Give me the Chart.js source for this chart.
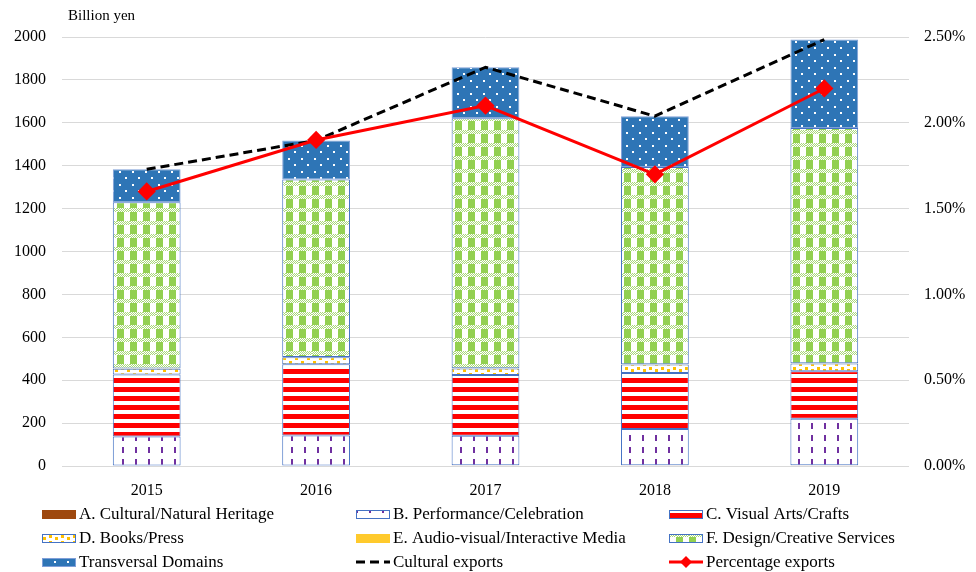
<!DOCTYPE html>
<html>
<head>
<meta charset="utf-8">
<script src="https://cdn.jsdelivr.net/npm/chart.js@4"></script>
<style>
  html, body { margin: 0; padding: 0; background: #fff; }
  #wrap { width: 976px; height: 572px; }
</style>
</head>
<body>
<div id="wrap"><canvas id="exportsChart" width="976" height="572"></canvas></div>
<script>
const years = ['2015', '2016', '2017', '2018', '2019'];

// billion yen, by domain
const heritage = [2, 2, 4, 4, 4];
const performance = [135, 140, 137, 168, 216];
const visualArts = [289, 332, 283, 262, 222];
const booksPress = [27, 33, 31, 39, 36];
const audioVisual = [1, 1, 1, 1, 1];
const designServices = [776, 828, 1165, 920, 1097];
const transversal = [153, 182, 238, 237, 412];

const culturalExports = [1383, 1518, 1859, 1631, 1988];
const percentageExports = [1.6, 1.9, 2.1, 1.7, 2.2];

const leftTicks = [0, 2000, 200];
const rightTicks = [0, 2.5, 0.5];

const legendCols = [42, 356, 669];
const legendRows = [514, 538, 562];

function tile(w, h, draw) {
    const c = document.createElement('canvas');
    c.width = w;
    c.height = h;
    const g = c.getContext('2d');
    draw(g);
    return c.getContext('2d').createPattern(c, 'repeat');
}

const ctx = document.getElementById('exportsChart').getContext('2d');

const perfFill = tile(13, 12, g => {
    g.fillStyle = '#fff';
    g.fillRect(0, 0, 13, 12);
    g.fillStyle = '#7030A0';
    g.fillRect(5, 3, 2, 6);
});

const artsFill = tile(4, 9, g => {
    g.fillStyle = '#fff';
    g.fillRect(0, 0, 4, 9);
    g.fillStyle = '#FF0000';
    g.fillRect(0, 0, 4, 5);
});

const booksFill = tile(12, 6, g => {
    g.fillStyle = '#fff';
    g.fillRect(0, 0, 12, 6);
    g.fillStyle = '#FFC000';
    g.fillRect(1, 1, 3, 3);
    g.fillRect(7, 3, 3, 3);
});

const designFill = tile(13, 13, g => {
    g.fillStyle = '#fff';
    g.fillRect(0, 0, 13, 13);
    g.fillStyle = '#92D050';
    g.fillRect(0, 4, 7, 9);
    // light mesh band
    g.fillStyle = '#A9D77A';
    for (let y = 0; y < 4; y++) {
        for (let x = 0; x < 13; x++) {
            if ((x + y) % 2 === 0) g.fillRect(x, y, 1, 1);
        }
    }
});

const transFill = tile(13, 13, g => {
    g.fillStyle = '#2E75B6';
    g.fillRect(0, 0, 13, 13);
    g.fillStyle = '#fff';
    g.fillRect(2, 2, 2, 2);
    g.fillRect(8, 8, 2, 2);
});

function barSet(label, data, fill, border) {
    return {
        type: 'bar',
        label: label,
        data: data,
        backgroundColor: fill,
        borderColor: border,
        borderWidth: 1,
        borderSkipped: false,
        yAxisID: 'y',
        stack: 'domains',
        order: 2,
        barPercentage: 0.4,
        categoryPercentage: 1
    };
}

const legendAndTitle = {
    id: 'legendAndTitle',
    afterDraw(chart) {
        const c = chart.ctx;
        c.save();
        c.font = '15px "Liberation Serif", serif';
        c.fillStyle = '#000';
        c.textBaseline = 'middle';
        c.textAlign = 'left';
        c.fillText('Billion yen', 68, 16);

        c.font = '17px "Liberation Serif", serif';
        chart.data.datasets.forEach((ds, i) => {
            const x = legendCols[i % 3];
            const y = legendRows[Math.floor(i / 3)];
            if (ds.type === 'bar') {
                c.fillStyle = ds.backgroundColor;
                c.fillRect(x, y - 4, 34, 9);
                c.strokeStyle = ds.borderColor;
                c.lineWidth = 1;
                c.strokeRect(x + 0.5, y - 3.5, 33, 8);
            } else {
                c.strokeStyle = ds.borderColor;
                c.lineWidth = 3;
                c.setLineDash(ds.borderDash || []);
                c.beginPath();
                c.moveTo(x, y);
                c.lineTo(x + 34, y);
                c.stroke();
                c.setLineDash([]);
                if (ds.pointRadius > 0) {
                    c.fillStyle = ds.pointBackgroundColor;
                    c.beginPath();
                    c.moveTo(x + 17, y - 6);
                    c.lineTo(x + 23, y);
                    c.lineTo(x + 17, y + 6);
                    c.lineTo(x + 11, y);
                    c.closePath();
                    c.fill();
                }
            }
            c.fillStyle = '#000';
            c.fillText(ds.label, x + 37, y + 1);
        });
        c.restore();
    }
};

Chart.defaults.font.family = '"Liberation Serif", serif';
Chart.defaults.font.size = 16;
Chart.defaults.color = '#000';

new Chart(ctx, {
    data: {
        labels: years,
        datasets: [
            barSet('A. Cultural/Natural Heritage', heritage, '#9E480E', '#9E480E'),
            barSet('B. Performance/Celebration', performance, perfFill, '#4472C4'),
            barSet('C. Visual Arts/Crafts', visualArts, artsFill, '#4472C4'),
            barSet('D. Books/Press', booksPress, booksFill, '#4472C4'),
            barSet('E. Audio-visual/Interactive Media', audioVisual, '#FFCA2C', '#FFCA2C'),
            barSet('F. Design/Creative Services', designServices, designFill, '#4472C4'),
            barSet('Transversal Domains', transversal, transFill, '#7F9FD8'),
            {
                type: 'line',
                label: 'Cultural exports',
                data: culturalExports,
                borderColor: '#000',
                borderWidth: 3,
                borderDash: [9, 5],
                pointRadius: 0,
                fill: false,
                tension: 0,
                yAxisID: 'y',
                order: 1
            },
            {
                type: 'line',
                label: 'Percentage exports',
                data: percentageExports,
                borderColor: '#FF0000',
                borderWidth: 3,
                pointStyle: 'rectRot',
                pointRadius: 7,
                pointBackgroundColor: '#FF0000',
                pointBorderColor: '#FF0000',
                fill: false,
                tension: 0,
                yAxisID: 'y1',
                order: 0
            }
        ]
    },
    options: {
        responsive: false,
        animation: false,
        layout: { padding: { top: 37, bottom: 66, left: 0, right: 0 } },
        plugins: {
            legend: { display: false },
            tooltip: { enabled: false }
        },
        scales: {
            x: {
                stacked: true,
                grid: { display: false },
                border: { display: false },
                ticks: { padding: 7 },
                afterFit: s => { s.height = 40; }
            },
            y: {
                stacked: true,
                position: 'left',
                min: leftTicks[0],
                max: leftTicks[1],
                ticks: { stepSize: leftTicks[2], padding: 16, callback: v => String(v) },
                grid: { color: '#D9D9D9', drawTicks: false },
                border: { display: false },
                afterFit: s => { s.width = 62; }
            },
            y1: {
                position: 'right',
                min: rightTicks[0],
                max: rightTicks[1],
                ticks: {
                    stepSize: rightTicks[2],
                    padding: 15,
                    callback: v => v.toFixed(2) + '%'
                },
                grid: { display: false, drawTicks: false },
                border: { display: false },
                afterFit: s => { s.width = 67; }
            }
        }
    },
    plugins: [legendAndTitle]
});
</script>
</body>
</html>
